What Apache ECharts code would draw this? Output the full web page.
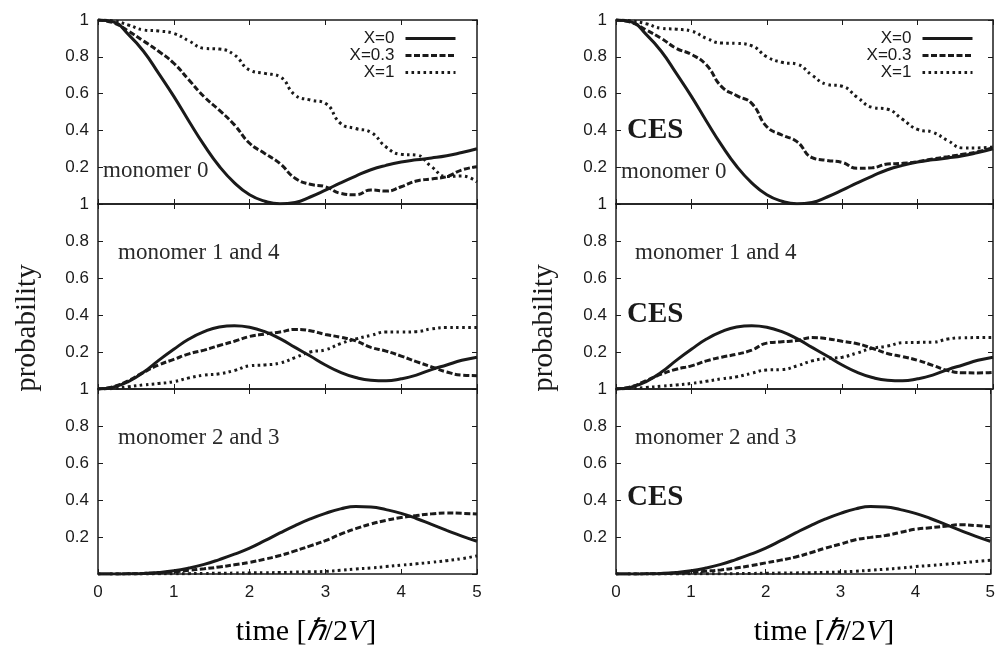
<!DOCTYPE html>
<html><head><meta charset="utf-8">
<script src="https://cdn.jsdelivr.net/npm/echarts@6/dist/echarts.min.js"></script>
<style>html,body{margin:0;padding:0;background:#fff}#c{width:998px;height:646px}</style>
</head><body><div id="c"></div>
<script>
// time samples [hbar/2V]
const time = [0,0.2,0.4,0.6,0.8,1.0,1.2,1.4,1.6,1.8,2.0,2.2,2.4,2.6,2.8,3.0,3.2,3.4,3.6,3.8,4.0,4.2,4.4,4.6,4.8,5.0];
const xTicks = [0,1,2,3,4,5];
const yTicks = [0.2,0.4,0.6,0.8,1];
const seriesNames = ['X=0','X=0.3','X=1'];

// X=0 (identical in both columns)
const m0_X0  = [1,0.99,0.922,0.83,0.71,0.585,0.45,0.32,0.205,0.115,0.05,0.015,0.001,0.008,0.038,0.075,0.115,0.152,0.186,0.21,0.228,0.24,0.25,0.262,0.28,0.30];
const m14_X0 = [0,0.01,0.04,0.09,0.155,0.215,0.27,0.31,0.335,0.342,0.334,0.31,0.272,0.225,0.178,0.13,0.09,0.062,0.047,0.044,0.055,0.075,0.105,0.13,0.155,0.172];
const m23_X0 = [0,0,0.001,0.003,0.008,0.017,0.032,0.052,0.078,0.107,0.14,0.18,0.222,0.262,0.298,0.328,0.352,0.365,0.362,0.348,0.328,0.30,0.268,0.236,0.205,0.177];

// left column
const L_m0_X03  = [1,0.985,0.94,0.886,0.83,0.765,0.674,0.583,0.51,0.43,0.33,0.275,0.22,0.14,0.107,0.094,0.058,0.05,0.076,0.07,0.094,0.125,0.136,0.149,0.185,0.203];
const L_m0_X1   = [1,0.995,0.973,0.946,0.94,0.927,0.886,0.846,0.842,0.81,0.728,0.71,0.692,0.592,0.565,0.547,0.438,0.41,0.39,0.31,0.27,0.266,0.203,0.149,0.152,0.12];
const L_m14_X03 = [0,0.012,0.045,0.09,0.13,0.16,0.19,0.21,0.235,0.258,0.284,0.297,0.308,0.322,0.315,0.295,0.28,0.26,0.225,0.205,0.178,0.148,0.12,0.092,0.075,0.072];
const L_m14_X1  = [0,0.003,0.012,0.022,0.03,0.04,0.06,0.075,0.082,0.10,0.125,0.13,0.14,0.17,0.2,0.212,0.245,0.27,0.29,0.308,0.308,0.31,0.325,0.332,0.332,0.333];
const L_m23_X03 = [0,0,0.001,0.003,0.007,0.012,0.02,0.028,0.038,0.05,0.063,0.08,0.1,0.125,0.152,0.18,0.215,0.245,0.27,0.29,0.305,0.316,0.325,0.33,0.328,0.324];
const L_m23_X1  = [0,0,0,0,0.001,0.001,0.002,0.003,0.004,0.005,0.006,0.007,0.008,0.01,0.012,0.014,0.02,0.027,0.033,0.04,0.048,0.055,0.063,0.072,0.083,0.098];

// right column (CES)
const R_m0_X03  = [1,0.987,0.946,0.90,0.846,0.813,0.755,0.638,0.589,0.547,0.42,0.375,0.339,0.252,0.237,0.226,0.194,0.197,0.217,0.221,0.23,0.245,0.257,0.27,0.284,0.306];
const R_m0_X1   = [1,0.995,0.98,0.955,0.95,0.94,0.90,0.875,0.873,0.86,0.80,0.77,0.76,0.70,0.65,0.64,0.58,0.525,0.515,0.46,0.405,0.39,0.345,0.305,0.305,0.31];
const R_m14_X03 = [0,0.012,0.045,0.08,0.107,0.125,0.152,0.172,0.188,0.21,0.248,0.255,0.262,0.278,0.272,0.258,0.245,0.22,0.192,0.175,0.155,0.128,0.10,0.088,0.087,0.09];
const R_m14_X1  = [0,0.003,0.008,0.015,0.022,0.03,0.042,0.055,0.066,0.085,0.103,0.105,0.125,0.152,0.165,0.172,0.195,0.22,0.232,0.25,0.252,0.253,0.27,0.277,0.278,0.279];
const R_m23_X03 = [0,0,0.001,0.002,0.005,0.009,0.015,0.022,0.032,0.045,0.06,0.075,0.092,0.115,0.14,0.162,0.185,0.198,0.208,0.225,0.242,0.25,0.258,0.266,0.262,0.255];
const R_m23_X1  = [0,0,0,0,0,0.001,0.001,0.002,0.002,0.003,0.004,0.005,0.006,0.007,0.009,0.011,0.015,0.02,0.026,0.032,0.04,0.046,0.053,0.06,0.067,0.074];

const panels = [
  [m0_X0, L_m0_X03, L_m0_X1],
  [m14_X0, L_m14_X03, L_m14_X1],
  [m23_X0, L_m23_X03, L_m23_X1],
  [m0_X0, R_m0_X03, R_m0_X1],
  [m14_X0, R_m14_X03, R_m14_X1],
  [m23_X0, R_m23_X03, R_m23_X1]
];

const INK = '#1a1a1a';
const SANS = 'Liberation Sans, Arial, sans-serif';
const SERIF = 'Liberation Serif, Times New Roman, serif';
const lineStyles = [
  {width: 3, type: 'solid'},
  {width: 3, type: [6, 2.5]},
  {width: 3, type: [2.6, 3.4]}
];

const gridPos = [
  {left: 98, top: 20, width: 379, height: 184},
  {left: 98, top: 204, width: 379, height: 185},
  {left: 98, top: 389, width: 379, height: 185},
  {left: 616, top: 20, width: 377, height: 184},
  {left: 616, top: 204, width: 377, height: 185},
  {left: 616, top: 389, width: 377, height: 185}
];

const grid = [], xAxis = [], yAxis = [], series = [];
gridPos.forEach((g, i) => {
  grid.push(Object.assign({show: false, containLabel: false}, g));
  const isBottom = (i % 3) === 2;
  const common = {
    type: 'value', gridIndex: i, min: 0, max: 5, interval: 1,
    axisLine: {show: true, onZero: false, lineStyle: {color: INK, width: 1.5}},
    axisTick: {show: true, inside: true, length: 5, lineStyle: {color: INK, width: 1}},
    splitLine: {show: false}
  };
  xAxis.push(Object.assign({}, common, {position: 'bottom',
    axisLabel: {show: isBottom, fontFamily: SANS, fontSize: 17, color: INK, margin: 10,
      formatter: v => xTicks.includes(v) ? String(v) : ''}}));
  xAxis.push(Object.assign({}, common, {position: 'top', axisLabel: {show: false}}));
  const ycommon = {
    type: 'value', gridIndex: i, min: 0, max: 1, interval: 0.2,
    axisLine: {show: true, onZero: false, lineStyle: {color: INK, width: 1.5}},
    axisTick: {show: true, inside: true, length: 5, lineStyle: {color: INK, width: 1}},
    splitLine: {show: false}
  };
  yAxis.push(Object.assign({}, ycommon, {position: 'left',
    axisLabel: {show: true, fontFamily: SANS, fontSize: 17, color: INK, margin: 9,
      formatter: v => {
        const r = Math.round(v * 10) / 10;
        if (!yTicks.some(t => Math.abs(t - r) < 1e-6)) return '';
        return r === 1 ? '1' : r.toFixed(1);
      }}}));
  yAxis.push(Object.assign({}, ycommon, {position: 'right', axisLabel: {show: false}}));
  panels[i].forEach((vals, k) => {
    series.push({
      type: 'line', name: seriesNames[k],
      xAxisIndex: 2 * i, yAxisIndex: 2 * i,
      data: time.map((t, j) => [t, vals[j]]),
      smooth: 0.5,
      showSymbol: false, symbol: 'none', clip: true,
      lineStyle: Object.assign({color: INK}, lineStyles[k]),
      itemStyle: {color: INK},
      emphasis: {disabled: true}, silent: true, animation: false
    });
  });
});

const legendBase = {
  orient: 'vertical', align: 'right', top: 25, itemWidth: 50, itemHeight: 14, itemGap: 0,
  data: seriesNames, selectedMode: false,
  lineStyle: {width: 3},
  itemStyle: {opacity: 0, borderWidth: 0},
  textStyle: {fontFamily: SANS, fontSize: 17, color: INK, lineHeight: 17, padding: [0, 6, 0, 0]}
};

function txt(x, y, text, size, extra) {
  return Object.assign({type: 'text', x: x, y: y, silent: true,
    style: Object.assign({text: text, font: size + 'px ' + SERIF, fill: '#2a2a2a',
      textAlign: 'left', textVerticalAlign: 'middle'}, extra && extra.style)}, extra && extra.el);
}

const richTime = {
  r: {fontFamily: SERIF, fontSize: 30, color: INK},
  i: {fontFamily: SERIF, fontSize: 30, fontStyle: 'italic', color: INK}
};
function timeLabel(x) {
  return {type: 'text', x: x, y: 632, silent: true,
    style: {text: '{r|time [}{i|ℏ}{r|/2}{i|V}{r|]}', rich: richTime, textAlign: 'center', textVerticalAlign: 'middle'}};
}
function probLabel(x) {
  return {type: 'text', x: x, y: 328, rotation: Math.PI / 2, silent: true,
    style: {text: 'probability', font: '29px ' + SERIF, fill: INK, textAlign: 'center', textVerticalAlign: 'middle'}};
}
const CES = {style: {font: 'bold 29px ' + SERIF, fill: INK}};

const graphic = [
  txt(103, 171, 'monomer 0', 23),
  txt(118, 253, 'monomer 1 and 4', 23),
  txt(118, 438, 'monomer 2 and 3', 23),
  txt(621, 172, 'monomer 0', 23),
  txt(635, 253, 'monomer 1 and 4', 23),
  txt(635, 438, 'monomer 2 and 3', 23),
  txt(627, 131, 'CES', 29, CES),
  txt(627, 315, 'CES', 29, CES),
  txt(627, 498, 'CES', 29, CES),
  timeLabel(306), timeLabel(824),
  probLabel(27), probLabel(544)
];

const chart = echarts.init(document.getElementById('c'), null, {renderer: 'canvas'});
chart.setOption({
  animation: false,
  backgroundColor: '#fff',
  grid, xAxis, yAxis, series, graphic,
  legend: [
    Object.assign({}, legendBase, {right: 536}),
    Object.assign({}, legendBase, {right: 19})
  ]
});
</script></body></html>
